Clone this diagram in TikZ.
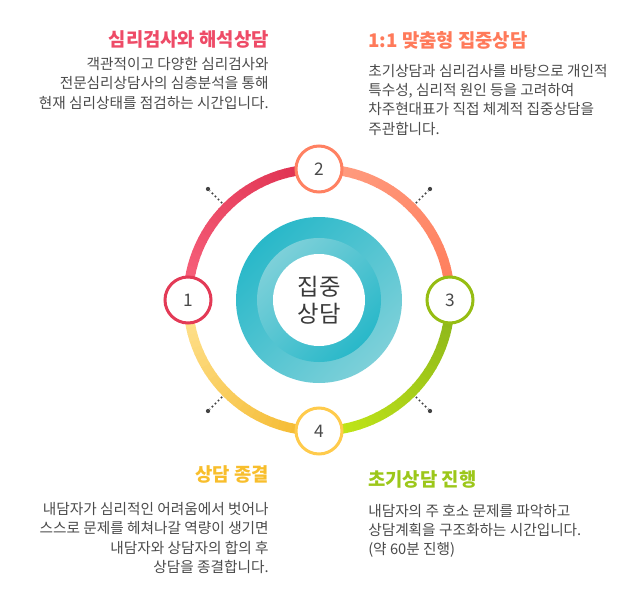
\documentclass[tikz,border=0pt]{standalone}
\usepackage{fontspec}
\setmainfont{Noto Sans CJK KR}
\usepackage{xcolor}
\usetikzlibrary{positioning}
\definecolor{txtgray}{HTML}{4A4A4A}
\definecolor{coregray}{HTML}{3A3A3A}
\definecolor{tickgray}{HTML}{444444}
\definecolor{redone}{HTML}{E33A56}
\definecolor{orangetwo}{HTML}{FF8162}
\definecolor{greenthree}{HTML}{96BD13}
\definecolor{yellowfour}{HTML}{FFCB4C}
\definecolor{titleone}{HTML}{EE4B67}
\definecolor{titletwo}{HTML}{FF7A5A}
\definecolor{titlethree}{HTML}{9CC71A}
\definecolor{titlefour}{HTML}{F8BE2C}
\definecolor{ringa}{HTML}{F9647E}
\definecolor{ringb}{HTML}{DD2E4E}
\definecolor{ringc}{HTML}{FF9E82}
\definecolor{ringd}{HTML}{FF7C5A}
\definecolor{ringe}{HTML}{8AB31A}
\definecolor{ringf}{HTML}{C5EA18}
\definecolor{ringg}{HTML}{F4B82A}
\definecolor{ringh}{HTML}{FFE394}
\definecolor{tealdark}{HTML}{29B8C9}
\definecolor{teallight}{HTML}{7DD0D9}
\tikzset{stepnum/.style={circle, fill=white, line width=2.25pt, minimum size=34.5pt, inner sep=0pt, font=\fontsize{13}{13}\selectfont, text=txtgray}, ttl/.style={font=\fontsize{14.1}{16}\selectfont\bfseries, inner sep=0pt}, txt/.style={font=\fontsize{11}{14.5}\selectfont, text=txtgray, inner sep=0pt}, tick/.style={dash pattern=on 1.3pt off 1.9pt, line width=1.3pt, color=tickgray}}
\begin{document}
\begin{tikzpicture}[x=0.75pt,y=0.75pt]
\useasboundingbox (0,0) rectangle (640,-603);
\coordinate (c) at (319,-300);
\foreach \s/\ca/\cb in {180/ringa/ringb, 90/ringc/ringd, 0/ringe/ringf, -90/ringg/ringh}
  \foreach \i in {0,...,29} {
    \pgfmathsetmacro\a{\s-3*\i} \pgfmathsetmacro\p{100*\i/29}
    \draw[line width=7.2pt, color=\cb!\p!\ca] (c) ++(\a:98.25pt) arc[start angle=\a, end angle=\a-3.4, radius=98.25pt];
  }
\foreach \a in {45,135,225,315} {
  \draw[tick] (c) ++(\a:102.75pt) -- ++(\a:13pt);
  \fill[tickgray] (c) ++(\a:117.75pt) circle[radius=1.6pt];
}
\shade[top color=tealdark, bottom color=teallight, shading angle=45] (c) circle[radius=62.25pt];
\shade[top color=teallight, bottom color=tealdark, shading angle=45] (c) circle[radius=46.5pt];
\fill[white] (c) circle[radius=34.5pt];
\node[font=\fontsize{17.5}{20.5}\selectfont, text=coregray, align=center] (core) at (c) {집중\\상담};
\node[stepnum, draw=redone] (n1) at (188,-300) {1};
\node[stepnum, draw=orangetwo] (n2) at (319,-169) {2};
\node[stepnum, draw=greenthree] (n3) at (450,-300) {3};
\node[stepnum, draw=yellowfour] (n4) at (319,-431) {4};
\node[ttl, text=titleone, anchor=base east] (t1) at (269,-46) {심리검사와 해석상담};
\node[txt, anchor=north east, align=right] (b1) at (269,-57) {객관적이고 다양한 심리검사와\\전문심리상담사의 심층분석을 통해\\현재 심리상태를 점검하는 시간입니다.};
\node[ttl, text=titletwo, anchor=base west] (t2) at (368,-47.3) {1:1 맞춤형 집중상담};
\node[txt, anchor=north west, align=left] (b2) at (368,-63.7) {초기상담과 심리검사를 바탕으로 개인적\\특수성, 심리적 원인 등을 고려하여\\차주현대표가 직접 체계적 집중상담을\\주관합니다.};
\node[ttl, text=titlethree, anchor=base west] (t3) at (368,-486.7) {초기상담 진행};
\node[txt, anchor=north west, align=left] (b3) at (368,-503.7) {내담자의 주 호소 문제를 파악하고\\상담계획을 구조화하는 시간입니다.\\(약 60분 진행)};
\node[ttl, text=titlefour, anchor=base east] (t4) at (269,-481.7) {상담 종결};
\node[txt, anchor=north east, align=right] (b4) at (269,-502) {내담자가 심리적인 어려움에서 벗어나\\스스로 문제를 헤쳐나갈 역량이 생기면\\내담자와 상담자의 합의 후\\상담을 종결합니다.};
\end{tikzpicture}
\end{document}
